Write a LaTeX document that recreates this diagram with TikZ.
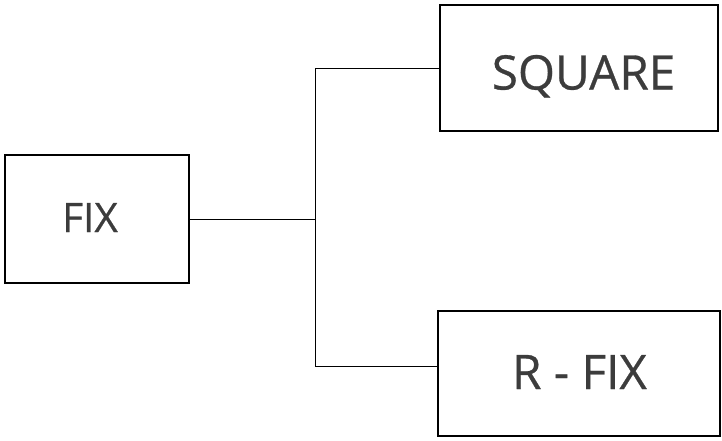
\documentclass[tikz,border=0pt]{standalone}
\usepackage{fontspec}
\setmainfont{Open Sans}[FakeBold=0.6]
\definecolor{txt}{HTML}{3C3C3C}
\begin{document}
\begin{tikzpicture}[x=1pt,y=-1pt,
  boxnode/.style={draw=black,line width=2pt,inner sep=0pt,outer sep=0pt,fill=white},
  lbl/.style={text=txt,inner sep=0pt,anchor=base,font=\fontsize{47.6}{50}\selectfont},
  lblsmall/.style={text=txt,inner sep=0pt,anchor=base,font=\fontsize{40.6}{44}\selectfont},
  conn/.style={draw=black,line width=1pt}]
\useasboundingbox[fill=white] (0,0) rectangle (722,440);
\node[boxnode,minimum width=184pt,minimum height=128pt] (fix) at (97,219) {};
\node[boxnode,minimum width=278pt,minimum height=126pt] (sq) at (579,68) {};
\node[boxnode,minimum width=282pt,minimum height=125pt] (rf) at (579,373.5) {};
\node[lblsmall] (tfix) at (90,232) {FIX};
\node[lbl] (tsq) at (583.5,89.5) {SQUARE};
\node[lbl] (trf) at (579.5,389) {R - FIX};
\coordinate (j) at (315,219);
\coordinate (rfin) at ([yshift=7.5pt]rf.west);
\draw[conn] (fix.east) -- (j);
\draw[conn] (j) |- (sq.west);
\draw[conn] (j) |- (rfin);
\end{tikzpicture}
\end{document}
